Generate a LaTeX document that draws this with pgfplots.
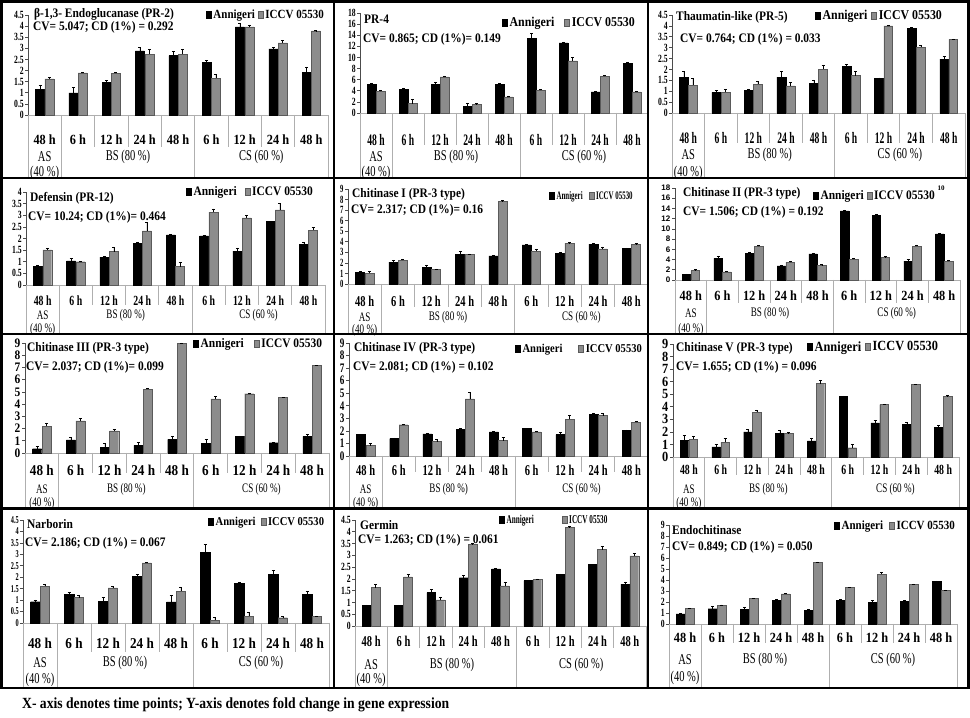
\documentclass[border=0pt]{standalone}
\usepackage{pgfplots}
\pgfplotsset{compat=1.18}
\usepackage{fontspec}
\setmainfont{Liberation Serif}
\setsansfont{Liberation Sans}
\newfontfamily\tc[FakeStretch=0.88]{Liberation Serif}
\newfontfamily\tcc[FakeStretch=0.7]{Liberation Serif}
\newfontfamily\tccc[FakeStretch=0.6]{Liberation Serif}
\definecolor{barI}{RGB}{140,140,140}
\definecolor{barIe}{RGB}{90,90,90}
\definecolor{sepgray}{RGB}{175,175,175}

\newcommand\geom[4]{%
 \pgfmathsetlengthmacro\pw{(#2-#1)*1pt}%
 \pgfmathsetlengthmacro\ph{(#3-#4)*1pt}%
 \pgfmathsetlengthmacro\px{#1*1pt}%
 \pgfmathsetlengthmacro\py{(718-#3)*1pt}%
}
\newcommand\cattable[5]{%
 \draw[sepgray, line width=0.8pt] (axis cs:1.5,0) -- ++(0pt,-#1pt) (axis cs:2.5,0) -- ++(0pt,-#1pt) (axis cs:3.5,0) -- ++(0pt,-#1pt) (axis cs:5.5,0) -- ++(0pt,-#1pt) (axis cs:6.5,0) -- ++(0pt,-#1pt) (axis cs:7.5,0) -- ++(0pt,-#1pt);
 \draw[sepgray, line width=0.8pt] (axis cs:-0.5,0) -- ++(0pt,-#2pt) (axis cs:0.5,0) -- ++(0pt,-#2pt) (axis cs:4.5,0) -- ++(0pt,-#2pt) (axis cs:8.5,0) -- ++(0pt,-#2pt);
 \node[font=#5, inner sep=0pt, yshift=-#3pt] at (axis cs:0,0) {AS};
 \node[font=#5, inner sep=0pt, yshift=-#4pt] at (axis cs:0,0) {(40 \%)};
 \node[font=#5, inner sep=0pt, yshift=-#3pt] at (axis cs:2.5,0) {BS (80 \%)};
 \node[font=#5, inner sep=0pt, yshift=-#3pt] at (axis cs:6.5,0) {CS (60 \%)};
}

\pgfplotsset{
 panel/.style={
   scale only axis, width=\pw, height=\ph, at={(\px,\py)}, anchor=south west,
   xmin=-0.5, xmax=8.5, ymin=0,
   axis x line=bottom, axis y line=left, axis line style={-},
   x axis line style={draw=sepgray, line width=0.8pt},
   y axis line style={draw=gray!60!black, line width=0.6pt},
   xtick={0,...,8}, xticklabels={48 h,6 h,12 h,24 h,48 h,6 h,12 h,24 h,48 h},
   xtick style={draw=none},
   ytick style={draw=gray!60!black, line width=0.6pt},
   tick align=outside, major tick length=3pt,
   ybar, bar width=0.27,
   clip=false,
   /pgf/number format/assume math mode=true,
   yticklabel style={font=\tcc\bfseries\fontsize{13}{13}\selectfont, inner sep=1.5pt},
   xticklabel style={anchor=center, inner sep=0pt},
   legend style={draw=none, fill=none, legend columns=2, anchor=west, inner sep=0pt},
   legend cell align=left,
 },
 dense/.style={yticklabel style={font=\tcc\bfseries\fontsize{11}{11}\selectfont, inner sep=1pt}},
 A/.style={fill=black, draw=black, bar shift=-0.14,
   error bars/y dir=plus, error bars/y explicit,
   error bars/error bar style={line width=0.4pt, black},
   error bars/error mark options={rotate=90, mark size=1.5pt, line width=0.4pt, black},
   legend image code/.code={\draw[black, fill=black] (0pt,-3.5pt) rectangle (5pt,3.5pt);}},
 I/.style={fill=barI, draw=barIe, bar shift=0.14,
   error bars/y dir=plus, error bars/y explicit,
   error bars/error bar style={line width=0.4pt, black},
   error bars/error mark options={rotate=90, mark size=1.5pt, line width=0.4pt, black},
   legend image code/.code={\draw[barIe, fill=barI] (0pt,-3.5pt) rectangle (5pt,3.5pt);}},
}
\tikzset{ttl/.style={anchor=west, inner sep=0pt, font=\tc\bfseries\fontsize{13}{13}\selectfont}}

\begin{document}
\begin{tikzpicture}
\useasboundingbox (0,0) rectangle (970pt,718pt);
\fill[white] (0,0) rectangle (970pt,718pt);

% ---------- P1 ----------
\geom{28}{328}{115}{15}
\begin{axis}[panel, dense, ymax=4.5, ytick={0,0.5,...,4.5},
 xticklabel style={yshift=-22pt, font=\tc\bfseries\fontsize{14}{14}\selectfont},
 legend style={at={(0.593,1.0)}, font=\tc\bfseries\fontsize{12.5}{12.5}\selectfont, /tikz/every even column/.append style={column sep=1pt}}]
\addplot[A] coordinates {(0,1.15)+-(0,0.2) (1,1.0)+-(0,0.24) (2,1.47)+-(0,0.1) (3,2.88)+-(0,0.15) (4,2.67)+-(0,0.18) (5,2.37)+-(0,0.1) (6,3.97)+-(0,0.15) (7,2.98)+-(0,0.06) (8,1.93)+-(0,0.24)};
\addplot[I] coordinates {(0,1.62)+-(0,0.08) (1,1.9)+-(0,0.03) (2,1.87)+-(0,0.05) (3,2.74)+-(0,0.2) (4,2.74)+-(0,0.2) (5,1.66)+-(0,0.18) (6,3.97)+-(0,0.08) (7,3.25)+-(0,0.12) (8,3.78)+-(0,0.02)};
\legend{Annigeri, ICCV 05530}
\cattable{32}{63}{42}{58}{\tcc\fontsize{15}{15}\selectfont}
\end{axis}

% ---------- P2 ----------
\geom{360}{648}{113}{13}
\begin{axis}[panel, dense, ymax=18, ytick={0,2,...,18},
 xticklabel style={yshift=-24pt, font=\tccc\bfseries\fontsize{16}{16}\selectfont},
 legend style={at={(0.493,0.9)}, font=\tc\bfseries\fontsize{13.5}{13.5}\selectfont, /tikz/every even column/.append style={column sep=8pt}}]
\addplot[A] coordinates {(0,5.1)+-(0,0.2) (1,4.3)+-(0,0.2) (2,5.2)+-(0,0.4) (3,1.2)+-(0,0.6) (4,5.1)+-(0,0.2) (5,13.4)+-(0,0.9) (6,12.6)+-(0,0.2) (7,3.8)+-(0,0.2) (8,8.9)+-(0,0.2)};
\addplot[I] coordinates {(0,3.9)+-(0,0.2) (1,1.7)+-(0,0.8) (2,6.5)+-(0,0.2) (3,1.5)+-(0,0.2) (4,2.9)+-(0,0.2) (5,4.1)+-(0,0.2) (6,9.4)+-(0,0.6) (7,6.6)+-(0,0.2) (8,3.8)+-(0,0.2)};
\legend{Annigeri, ICCV 05530}
\cattable{32}{65}{44}{60}{\tcc\fontsize{15}{15}\selectfont}
\end{axis}

% ---------- P3 ----------
\geom{672}{965}{113}{15}
\begin{axis}[panel, dense, ymax=4.5, ytick={0,0.5,...,4.5},
 xticklabel style={yshift=-22pt, font=\tccc\bfseries\fontsize{16}{16}\selectfont},
 legend style={at={(0.488,0.99)}, font=\tc\bfseries\fontsize{13.5}{13.5}\selectfont, /tikz/every even column/.append style={column sep=2pt}}]
\addplot[A] coordinates {(0,1.65)+-(0,0.26) (1,0.95)+-(0,0.1) (2,1.04)+-(0,0.05) (3,1.65)+-(0,0.26) (4,1.37)+-(0,0.15) (5,2.13)+-(0,0.1) (6,1.6)+-(0,0.02) (7,3.9)+-(0,0.02) (8,2.47)+-(0,0.12)};
\addplot[I] coordinates {(0,1.28)+-(0,0.3) (1,0.95)+-(0,0.15) (2,1.33)+-(0,0.12) (3,1.25)+-(0,0.17) (4,2.01)+-(0,0.2) (5,1.72)+-(0,0.18) (6,4.0)+-(0,0.02) (7,3.02)+-(0,0.1) (8,3.38)+-(0,0.02)};
\legend{Annigeri, ICCV 05530}
\cattable{30}{65}{42}{60}{\tcc\fontsize{15}{15}\selectfont}
\end{axis}

% ---------- P4 ----------
\geom{26}{325}{285}{192}
\begin{axis}[panel, dense, ymax=4, ytick={0,0.5,...,4},
 xticklabel style={yshift=-13pt, font=\tcc\bfseries\fontsize{14}{14}\selectfont},
 legend style={at={(0.535,1.0)}, font=\tc\bfseries\fontsize{13}{13}\selectfont, /tikz/every even column/.append style={column sep=6pt}}]
\addplot[A] coordinates {(0,0.8)+-(0,0.03) (1,1.04)+-(0,0.1) (2,1.2)+-(0,0.04) (3,1.8)+-(0,0.02) (4,2.16)+-(0,0.02) (5,2.11)+-(0,0.03) (6,1.46)+-(0,0.14) (7,2.73)+-(0,0.02) (8,1.74)+-(0,0.1)};
\addplot[I] coordinates {(0,1.51)+-(0,0.08) (1,1.0)+-(0,0.03) (2,1.44)+-(0,0.2) (3,2.33)+-(0,0.35) (4,0.79)+-(0,0.2) (5,3.13)+-(0,0.15) (6,2.89)+-(0,0.12) (7,3.23)+-(0,0.27) (8,2.36)+-(0,0.12)};
\legend{Annigeri, ICCV 05530}
\cattable{20}{49}{30}{44}{\tcc\fontsize{13}{13}\selectfont}
\end{axis}

% ---------- P5 ----------
\geom{348}{648}{284}{189}
\begin{axis}[panel, ymax=9, ytick={0,1,...,9},
 yticklabel style={font=\tccc\bfseries\fontsize{11}{11}\selectfont},
 xticklabel style={yshift=-14pt, font=\tcc\bfseries\fontsize{15}{15}\selectfont},
 legend style={at={(0.67,0.926)}, font=\tccc\bfseries\fontsize{11.5}{11.5}\selectfont, /tikz/every even column/.append style={column sep=4pt}}]
\addplot[A] coordinates {(0,1.13)+-(0,0.05) (1,2.07)+-(0,0.2) (2,1.6)+-(0,0.2) (3,2.83)+-(0,0.25) (4,2.67)+-(0,0.05) (5,3.71)+-(0,0.05) (6,2.92)+-(0,0.05) (7,3.77)+-(0,0.05) (8,3.36)+-(0,0.05)};
\addplot[I] coordinates {(0,1.0)+-(0,0.2) (1,2.26)+-(0,0.1) (2,1.38)+-(0,0.05) (3,2.8)+-(0,0.05) (4,7.8)+-(0,0.1) (5,3.08)+-(0,0.25) (6,3.87)+-(0,0.05) (7,3.33)+-(0,0.2) (8,3.77)+-(0,0.05)};
\legend{Annigeri, ICCV 05530}
\cattable{23}{50}{33}{46}{\tcc\fontsize{13}{13}\selectfont}
\end{axis}

% ---------- P6 ----------
\geom{675}{960}{280}{188}
\begin{axis}[panel, ymax=18, ytick={0,2,...,18},
 yticklabel style={font=\sffamily\bfseries\fontsize{8}{8}\selectfont},
 xticklabel style={yshift=-13pt, font=\tc\bfseries\fontsize{14}{14}\selectfont},
 legend style={at={(0.484,0.913)}, font=\tc\bfseries\fontsize{13}{13}\selectfont, /tikz/every even column/.append style={column sep=1pt}}]
\addplot[A] coordinates {(0,1.1)+-(0,0.1) (1,4.24)+-(0,0.5) (2,5.15)+-(0,0.2) (3,2.74)+-(0,0.2) (4,5.1)+-(0,0.2) (5,13.5)+-(0,0.2) (6,12.7)+-(0,0.2) (7,3.7)+-(0,0.3) (8,9.0)+-(0,0.2)};
\addplot[I] coordinates {(0,1.83)+-(0,0.2) (1,1.57)+-(0,0.2) (2,6.6)+-(0,0.2) (3,3.46)+-(0,0.2) (4,2.8)+-(0,0.2) (5,4.1)+-(0,0.2) (6,4.4)+-(0,0.2) (7,6.65)+-(0,0.2) (8,3.7)+-(0,0.2)};
\legend{Annigeri, ICCV 05530}
\cattable{23}{54}{33}{49}{\tcc\fontsize{13}{13}\selectfont}
\end{axis}

% ---------- P7 ----------
\geom{25}{329}{453}{343}
\begin{axis}[panel, ymax=9, ytick={0,1,...,9},
 yticklabel style={font=\tc\bfseries\fontsize{13}{13}\selectfont},
 xticklabel style={yshift=-14pt, font=\tc\bfseries\fontsize{15}{15}\selectfont},
 legend style={at={(0.553,0.99)}, font=\tc\bfseries\fontsize{13}{13}\selectfont, /tikz/every even column/.append style={column sep=8pt}}]
\addplot[A] coordinates {(0,0.35)+-(0,0.2) (1,1.08)+-(0,0.2) (2,0.49)+-(0,0.3) (3,0.62)+-(0,0.25) (4,1.11)+-(0,0.25) (5,0.79)+-(0,0.35) (6,1.38)+-(0,0.03) (7,0.84)+-(0,0.03) (8,1.35)+-(0,0.2)};
\addplot[I] coordinates {(0,2.17)+-(0,0.27) (1,2.63)+-(0,0.2) (2,1.82)+-(0,0.12) (3,5.23)+-(0,0.05) (4,9.0)+-(0,0.02) (5,4.42)+-(0,0.2) (6,4.85)+-(0,0.05) (7,4.53)+-(0,0.05) (8,7.15)+-(0,0.05)};
\legend{Annigeri, ICCV 05530}
\cattable{20}{55}{36}{50}{\tcc\fontsize{13}{13}\selectfont}
\end{axis}

% ---------- P8 ----------
\geom{349}{648}{456}{343}
\begin{axis}[panel, ymax=9, ytick={0,1,...,9},
 xticklabel style={yshift=-11pt, font=\tcc\bfseries\fontsize{15}{15}\selectfont},
 legend style={at={(0.555,0.947)}, font=\tc\bfseries\fontsize{12}{12}\selectfont, /tikz/every even column/.append style={column sep=14pt}}]
\addplot[A] coordinates {(0,1.71)+-(0,0.03) (1,1.39)+-(0,0.05) (2,1.76)+-(0,0.03) (3,2.14)+-(0,0.05) (4,1.93)+-(0,0.03) (5,2.19)+-(0,0.03) (6,1.71)+-(0,0.2) (7,3.32)+-(0,0.12) (8,2.06)+-(0,0.03)};
\addplot[I] coordinates {(0,0.83)+-(0,0.15) (1,2.49)+-(0,0.05) (2,1.15)+-(0,0.15) (3,4.55)+-(0,0.5) (4,1.23)+-(0,0.25) (5,1.93)+-(0,0.05) (6,2.91)+-(0,0.35) (7,3.21)+-(0,0.18) (8,2.7)+-(0,0.05)};
\legend{Annigeri, ICCV 05530}
\cattable{16}{52}{33}{47}{\tcc\fontsize{13}{13}\selectfont}
\end{axis}

% ---------- P9 ----------
\geom{673}{959}{457}{344}
\begin{axis}[panel, ymax=9, ytick={0,1,...,9},
 yticklabel style={font=\tc\bfseries\fontsize{14}{14}\selectfont},
 xticklabel style={yshift=-10pt, font=\tcc\bfseries\fontsize{14}{14}\selectfont},
 legend style={at={(0.469,0.973)}, font=\tc\bfseries\fontsize{14}{14}\selectfont, /tikz/every even column/.append style={column sep=2pt}}]
\addplot[A] coordinates {(0,1.33)+-(0,0.4) (1,0.8)+-(0,0.2) (2,2.0)+-(0,0.2) (3,1.89)+-(0,0.25) (4,1.28)+-(0,0.25) (5,4.84)+-(0,0.02) (6,2.71)+-(0,0.2) (7,2.58)+-(0,0.18) (8,2.34)+-(0,0.2)};
\addplot[I] coordinates {(0,1.41)+-(0,0.25) (1,1.17)+-(0,0.3) (2,3.56)+-(0,0.2) (3,1.89)+-(0,0.05) (4,5.85)+-(0,0.27) (5,0.74)+-(0,0.3) (6,4.18)+-(0,0.05) (7,5.77)+-(0,0.03) (8,4.84)+-(0,0.05)};
\legend{Annigeri, ICCV 05530}
\cattable{18}{51}{32}{46}{\tcc\fontsize{13}{13}\selectfont}
\end{axis}

% ---------- P10 ----------
\geom{23}{329}{623}{520}
\begin{axis}[panel, ymax=4.5, ytick={0,0.5,...,4.5},
 yticklabel style={font=\tccc\bfseries\fontsize{10.5}{10.5}\selectfont, inner sep=1pt},
 xticklabel style={yshift=-17pt, font=\tc\bfseries\fontsize{15}{15}\selectfont},
 legend style={at={(0.605,0.98)}, font=\tc\bfseries\fontsize{12}{12}\selectfont, /tikz/every even column/.append style={column sep=3pt}}]
\addplot[A] coordinates {(0,0.93)+-(0,0.08) (1,1.25)+-(0,0.09) (2,0.95)+-(0,0.19) (3,2.04)+-(0,0.1) (4,0.92)+-(0,0.3) (5,3.1)+-(0,0.33) (6,1.72)+-(0,0.05) (7,2.14)+-(0,0.15) (8,1.25)+-(0,0.12)};
\addplot[I] coordinates {(0,1.6)+-(0,0.09) (1,1.11)+-(0,0.09) (2,1.54)+-(0,0.05) (3,2.63)+-(0,0.02) (4,1.38)+-(0,0.2) (5,0.12)+-(0,0.13) (6,0.29)+-(0,0.17) (7,0.23)+-(0,0.05) (8,0.28)+-(0,0.03)};
\legend{Annigeri, ICCV 05530}
\cattable{29}{65}{40}{57}{\tcc\fontsize{15}{15}\selectfont}
\end{axis}

% ---------- P11 ----------
\geom{355}{646}{626}{520}
\begin{axis}[panel, dense, ymax=4.5, ytick={0,0.5,...,4.5},
 xticklabel style={yshift=-12pt, font=\tcc\bfseries\fontsize{15}{15}\selectfont},
 legend style={at={(0.495,1.0)}, font=\tccc\bfseries\fontsize{12}{12}\selectfont, /tikz/every even column/.append style={column sep=26pt}}]
\addplot[A] coordinates {(0,0.88)+-(0,0.02) (1,0.88)+-(0,0.02) (2,1.42)+-(0,0.13) (3,2.05)+-(0,0.1) (4,2.43)+-(0,0.02) (5,1.93)+-(0,0.02) (6,2.19)+-(0,0.02) (7,2.61)+-(0,0.02) (8,1.78)+-(0,0.1)};
\addplot[I] coordinates {(0,1.63)+-(0,0.13) (1,2.09)+-(0,0.1) (2,1.11)+-(0,0.13) (3,3.48)+-(0,0.02) (4,1.7)+-(0,0.17) (5,1.97)+-(0,0.03) (6,4.19)+-(0,0.03) (7,3.24)+-(0,0.14) (8,2.98)+-(0,0.1)};
\legend{Annigeri, ICCV 05530}
\cattable{22}{62}{39}{54}{\tcc\fontsize{15}{15}\selectfont}
\end{axis}

% ---------- P12 ----------
\geom{669}{957}{624}{525}
\begin{axis}[panel, dense, ymax=9, ytick={0,1,...,9},
 xticklabel style={yshift=-11pt, font=\tc\bfseries\fontsize{14}{14}\selectfont},
 legend style={at={(0.573,0.99)}, font=\tc\bfseries\fontsize{12.5}{12.5}\selectfont, /tikz/every even column/.append style={column sep=4pt}}]
\addplot[A] coordinates {(0,0.91)+-(0,0.05) (1,1.39)+-(0,0.2) (2,1.3)+-(0,0.25) (3,2.18)+-(0,0.05) (4,1.27)+-(0,0.05) (5,2.18)+-(0,0.05) (6,1.97)+-(0,0.2) (7,2.09)+-(0,0.05) (8,3.88)+-(0,0.05)};
\addplot[I] coordinates {(0,1.42)+-(0,0.05) (1,1.7)+-(0,0.05) (2,2.3)+-(0,0.05) (3,2.73)+-(0,0.05) (4,5.6)+-(0,0.05) (5,3.3)+-(0,0.05) (6,4.5)+-(0,0.2) (7,3.6)+-(0,0.05) (8,3.06)+-(0,0.05)};
\legend{Annigeri, ICCV 05530}
\cattable{19}{64}{36}{54}{\tcc\fontsize{15}{15}\selectfont}
\end{axis}

% ---------- titles ----------
\node[ttl] at (34pt,704pt) {β-1,3- Endoglucanase (PR-2)};
\node[ttl] at (33pt,691pt) {CV= 5.047; CD (1\%) = 0.292};
\node[ttl] at (364pt,699pt) {PR-4};
\node[ttl] at (363pt,679pt) {CV= 0.865; CD (1\%)= 0.149};
\node[ttl] at (676pt,701pt) {Thaumatin-like (PR-5)};
\node[ttl] at (680pt,679pt) {CV= 0.764; CD (1\%) = 0.033};
\node[ttl] at (30pt,520pt) {Defensin (PR-12)};
\node[ttl] at (28pt,501pt) {CV= 10.24; CD (1\%)= 0.464};
\node[ttl] at (352pt,524pt) {Chitinase  I (PR-3 type)};
\node[ttl] at (351pt,508pt) {CV= 2.317; CD (1\%)= 0.16};
\node[ttl] at (683pt,525pt) {Chitinase  II (PR-3 type)};
\node[ttl] at (683pt,506pt) {CV= 1.506; CD (1\%) = 0.192};
\node[font=\bfseries\fontsize{7}{7}\selectfont, inner sep=0pt] at (941pt,530pt) {10};
\node[ttl] at (27pt,370pt) {Chitinase  III (PR-3 type)};
\node[ttl] at (26pt,351pt) {CV= 2.037; CD (1\%)= 0.099};
\node[ttl] at (354pt,370pt) {Chitinase  IV (PR-3 type)};
\node[ttl] at (353pt,351pt) {CV= 2.081; CD (1\%) = 0.102};
\node[ttl] at (676pt,370pt) {Chitinase V (PR-3 type)};
\node[ttl] at (676pt,351pt) {CV= 1.655; CD (1\%) = 0.096};
\node[ttl] at (27pt,194pt) {Narborin};
\node[ttl] at (25pt,175pt) {CV= 2.186; CD (1\%) = 0.067};
\node[ttl] at (360pt,193pt) {Germin};
\node[ttl] at (358pt,178pt) {CV= 1.263; CD (1\%) = 0.061};
\node[ttl] at (672pt,188pt) {Endochitinase};
\node[ttl] at (672pt,171pt) {CV= 0.849; CD (1\%) = 0.050};

% ---------- frame ----------
\draw[line width=2.5pt] (1.5pt,716.5pt) rectangle (968.5pt,30pt);
\draw[line width=2.5pt] (334pt,716.5pt) -- (334pt,30pt) (648pt,716.5pt) -- (648pt,30pt)
  (1.5pt,540pt) -- (968.5pt,540pt) (1.5pt,384pt) -- (968.5pt,384pt) (1.5pt,209.5pt) -- (968.5pt,209.5pt);

\node[anchor=west, inner sep=0pt, font=\tc\bfseries\fontsize{15.5}{15.5}\selectfont] at (22pt,13pt) {X- axis denotes time points; Y-axis denotes fold change in gene expression};
\end{tikzpicture}
\end{document}
